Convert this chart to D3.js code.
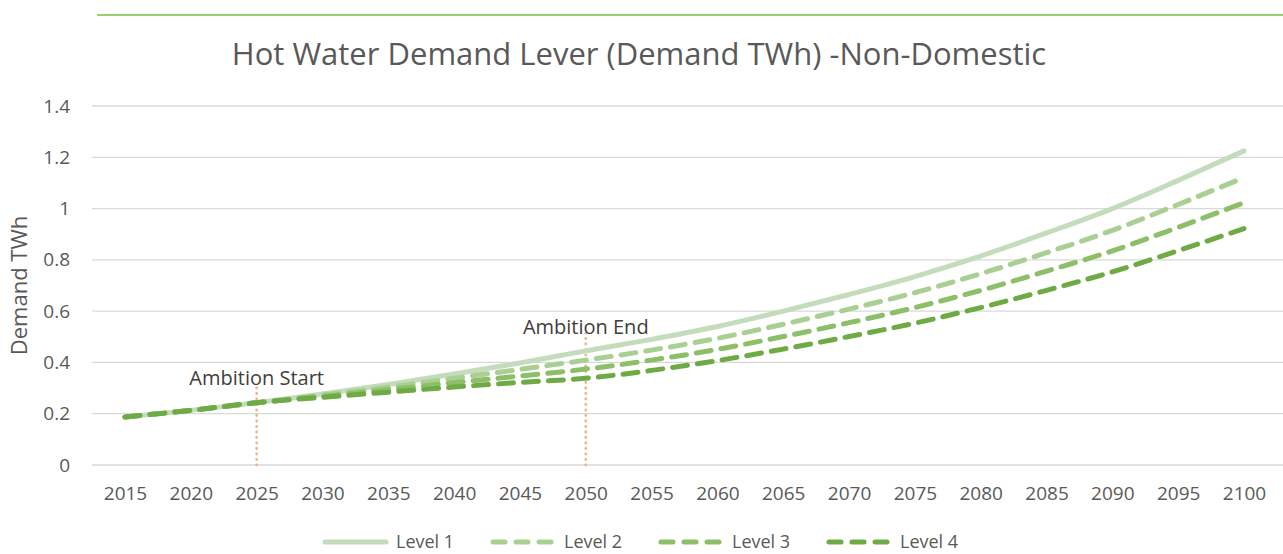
<!DOCTYPE html>
<html>
<head>
<meta charset="utf-8">
<script src="https://cdn.jsdelivr.net/npm/d3@7"></script>
<style>
  body { margin: 0; background: #fff; }
  svg text { font-family: "Open Sans", sans-serif; }
</style>
</head>
<body>
<svg id="chart" width="1283" height="554"></svg>
<script>
// chart data
const years = [2015, 2020, 2025, 2030, 2035, 2040, 2045, 2050, 2055, 2060,
               2065, 2070, 2075, 2080, 2085, 2090, 2095, 2100];
const level1 = [0.187, 0.213, 0.243, 0.277, 0.314, 0.355, 0.398, 0.445, 0.490, 0.540,
                0.600, 0.665, 0.735, 0.815, 0.905, 1.000, 1.110, 1.225];
const level2 = [0.187, 0.213, 0.243, 0.273, 0.304, 0.338, 0.373, 0.409, 0.448, 0.494,
                0.549, 0.608, 0.672, 0.746, 0.828, 0.915, 1.016, 1.121];
const level3 = [0.187, 0.213, 0.243, 0.268, 0.294, 0.321, 0.347, 0.374, 0.409, 0.451,
                0.501, 0.555, 0.614, 0.681, 0.756, 0.835, 0.927, 1.023];
const level4 = [0.187, 0.213, 0.243, 0.264, 0.284, 0.304, 0.322, 0.338, 0.369, 0.407,
                0.452, 0.501, 0.553, 0.614, 0.681, 0.753, 0.836, 0.922];
const seriesNames = ['Level 1', 'Level 2', 'Level 3', 'Level 4'];
const yTicks = [0, 0.2, 0.4, 0.6, 0.8, 1, 1.2, 1.4];
const markerYears = [2025, 2050];
const markerLabels = ['Ambition Start', 'Ambition End'];
const markerTops = [0.32, 0.518];

const title = 'Hot Water Demand Lever (Demand TWh) -Non-Domestic';
const yTitle = 'Demand TWh';

const colors = ['#c5dcbc', '#a9cf92', '#8cbf68', '#6fab45'];
const dashes = [null, '15,10', '15,10', '15,10'];

const svg = d3.select('#chart');

const x = d3.scaleLinear().domain([2015, 2100]).range([125, 1244]);
const y = d3.scaleLinear().domain([0, 1.4]).range([465, 106]);

// green rule along the top
svg.append('line')
  .attr('x1', 97).attr('x2', 1283)
  .attr('y1', 15).attr('y2', 15)
  .attr('stroke', '#7cc142').attr('stroke-width', 1.5);

svg.append('text')
  .attr('x', 639).attr('y', 65)
  .attr('text-anchor', 'middle')
  .attr('font-size', 31)
  .attr('fill', '#595959')
  .text(title);

// gridlines + y labels
const yAxis = d3.axisLeft(y).tickValues(yTicks).tickSize(0).tickPadding(0)
  .tickFormat(d => d3.format('')(+d.toFixed(1)));
const gy = svg.append('g').attr('transform', 'translate(70,0)').call(yAxis);
gy.select('.domain').remove();
gy.selectAll('text').attr('font-size', 19).attr('fill', '#595959')
  .attr('font-family', '"Open Sans", sans-serif');

svg.append('g').selectAll('line')
  .data(yTicks)
  .join('line')
  .attr('x1', 92).attr('x2', 1283)
  .attr('y1', d => y(d)).attr('y2', d => y(d))
  .attr('stroke', '#d9d9d9').attr('stroke-width', 1.3);

svg.append('text')
  .attr('transform', `translate(27,${y(0.7)}) rotate(-90)`)
  .attr('text-anchor', 'middle')
  .attr('font-size', 22)
  .attr('fill', '#595959')
  .text(yTitle);

// x labels
const xAxis = d3.axisBottom(x).tickValues(years).tickSize(0).tickPadding(0)
  .tickFormat(d3.format('d'));
const gx = svg.append('g').attr('transform', 'translate(0,486)').call(xAxis);
gx.select('.domain').remove();
gx.selectAll('text').attr('font-size', 19).attr('fill', '#595959')
  .attr('font-family', '"Open Sans", sans-serif');

// ambition markers
const markers = markerYears.map((yr, i) => ({year: yr, label: markerLabels[i], top: markerTops[i]}));
svg.append('g').selectAll('line')
  .data(markers)
  .join('line')
  .attr('x1', d => x(d.year)).attr('x2', d => x(d.year))
  .attr('y1', y(0)).attr('y2', d => y(d.top))
  .attr('stroke', '#f4b183').attr('stroke-width', 2.8)
  .attr('stroke-linecap', 'round')
  .attr('stroke-dasharray', '0,5.5');

svg.append('g').selectAll('text')
  .data(markers)
  .join('text')
  .attr('x', d => x(d.year)).attr('y', d => y(d.top) - 5)
  .attr('dy', '0.35em')
  .attr('text-anchor', 'middle')
  .attr('font-size', 20)
  .attr('fill', '#404040')
  .text(d => d.label);

// series lines
const series = [level1, level2, level3, level4].map((vals, i) => ({
  name: seriesNames[i],
  color: colors[i],
  dash: dashes[i],
  values: vals.map((v, j) => ({year: years[j], value: v}))
}));

const line = d3.line()
  .x(d => x(d.year))
  .y(d => y(d.value))
  .curve(d3.curveMonotoneX);

svg.append('g').selectAll('path')
  .data(series)
  .join('path')
  .attr('d', d => line(d.values))
  .attr('fill', 'none')
  .attr('stroke', d => d.color)
  .attr('stroke-width', 5)
  .attr('stroke-linecap', 'round')
  .attr('stroke-dasharray', d => d.dash);

// legend
const legendX = [323, 491, 659, 827];
const legend = svg.append('g').selectAll('g')
  .data(series)
  .join('g')
  .attr('transform', (d, i) => `translate(${legendX[i]},542)`);

legend.append('line')
  .attr('x1', 2).attr('x2', 63)
  .attr('stroke', d => d.color)
  .attr('stroke-width', 5)
  .attr('stroke-linecap', 'round')
  .attr('stroke-dasharray', d => d.dash ? '12,11' : null);

legend.append('text')
  .attr('x', 73).attr('dy', '0.35em')
  .attr('font-size', 18)
  .attr('fill', '#595959')
  .text(d => d.name);
</script>
</body>
</html>
